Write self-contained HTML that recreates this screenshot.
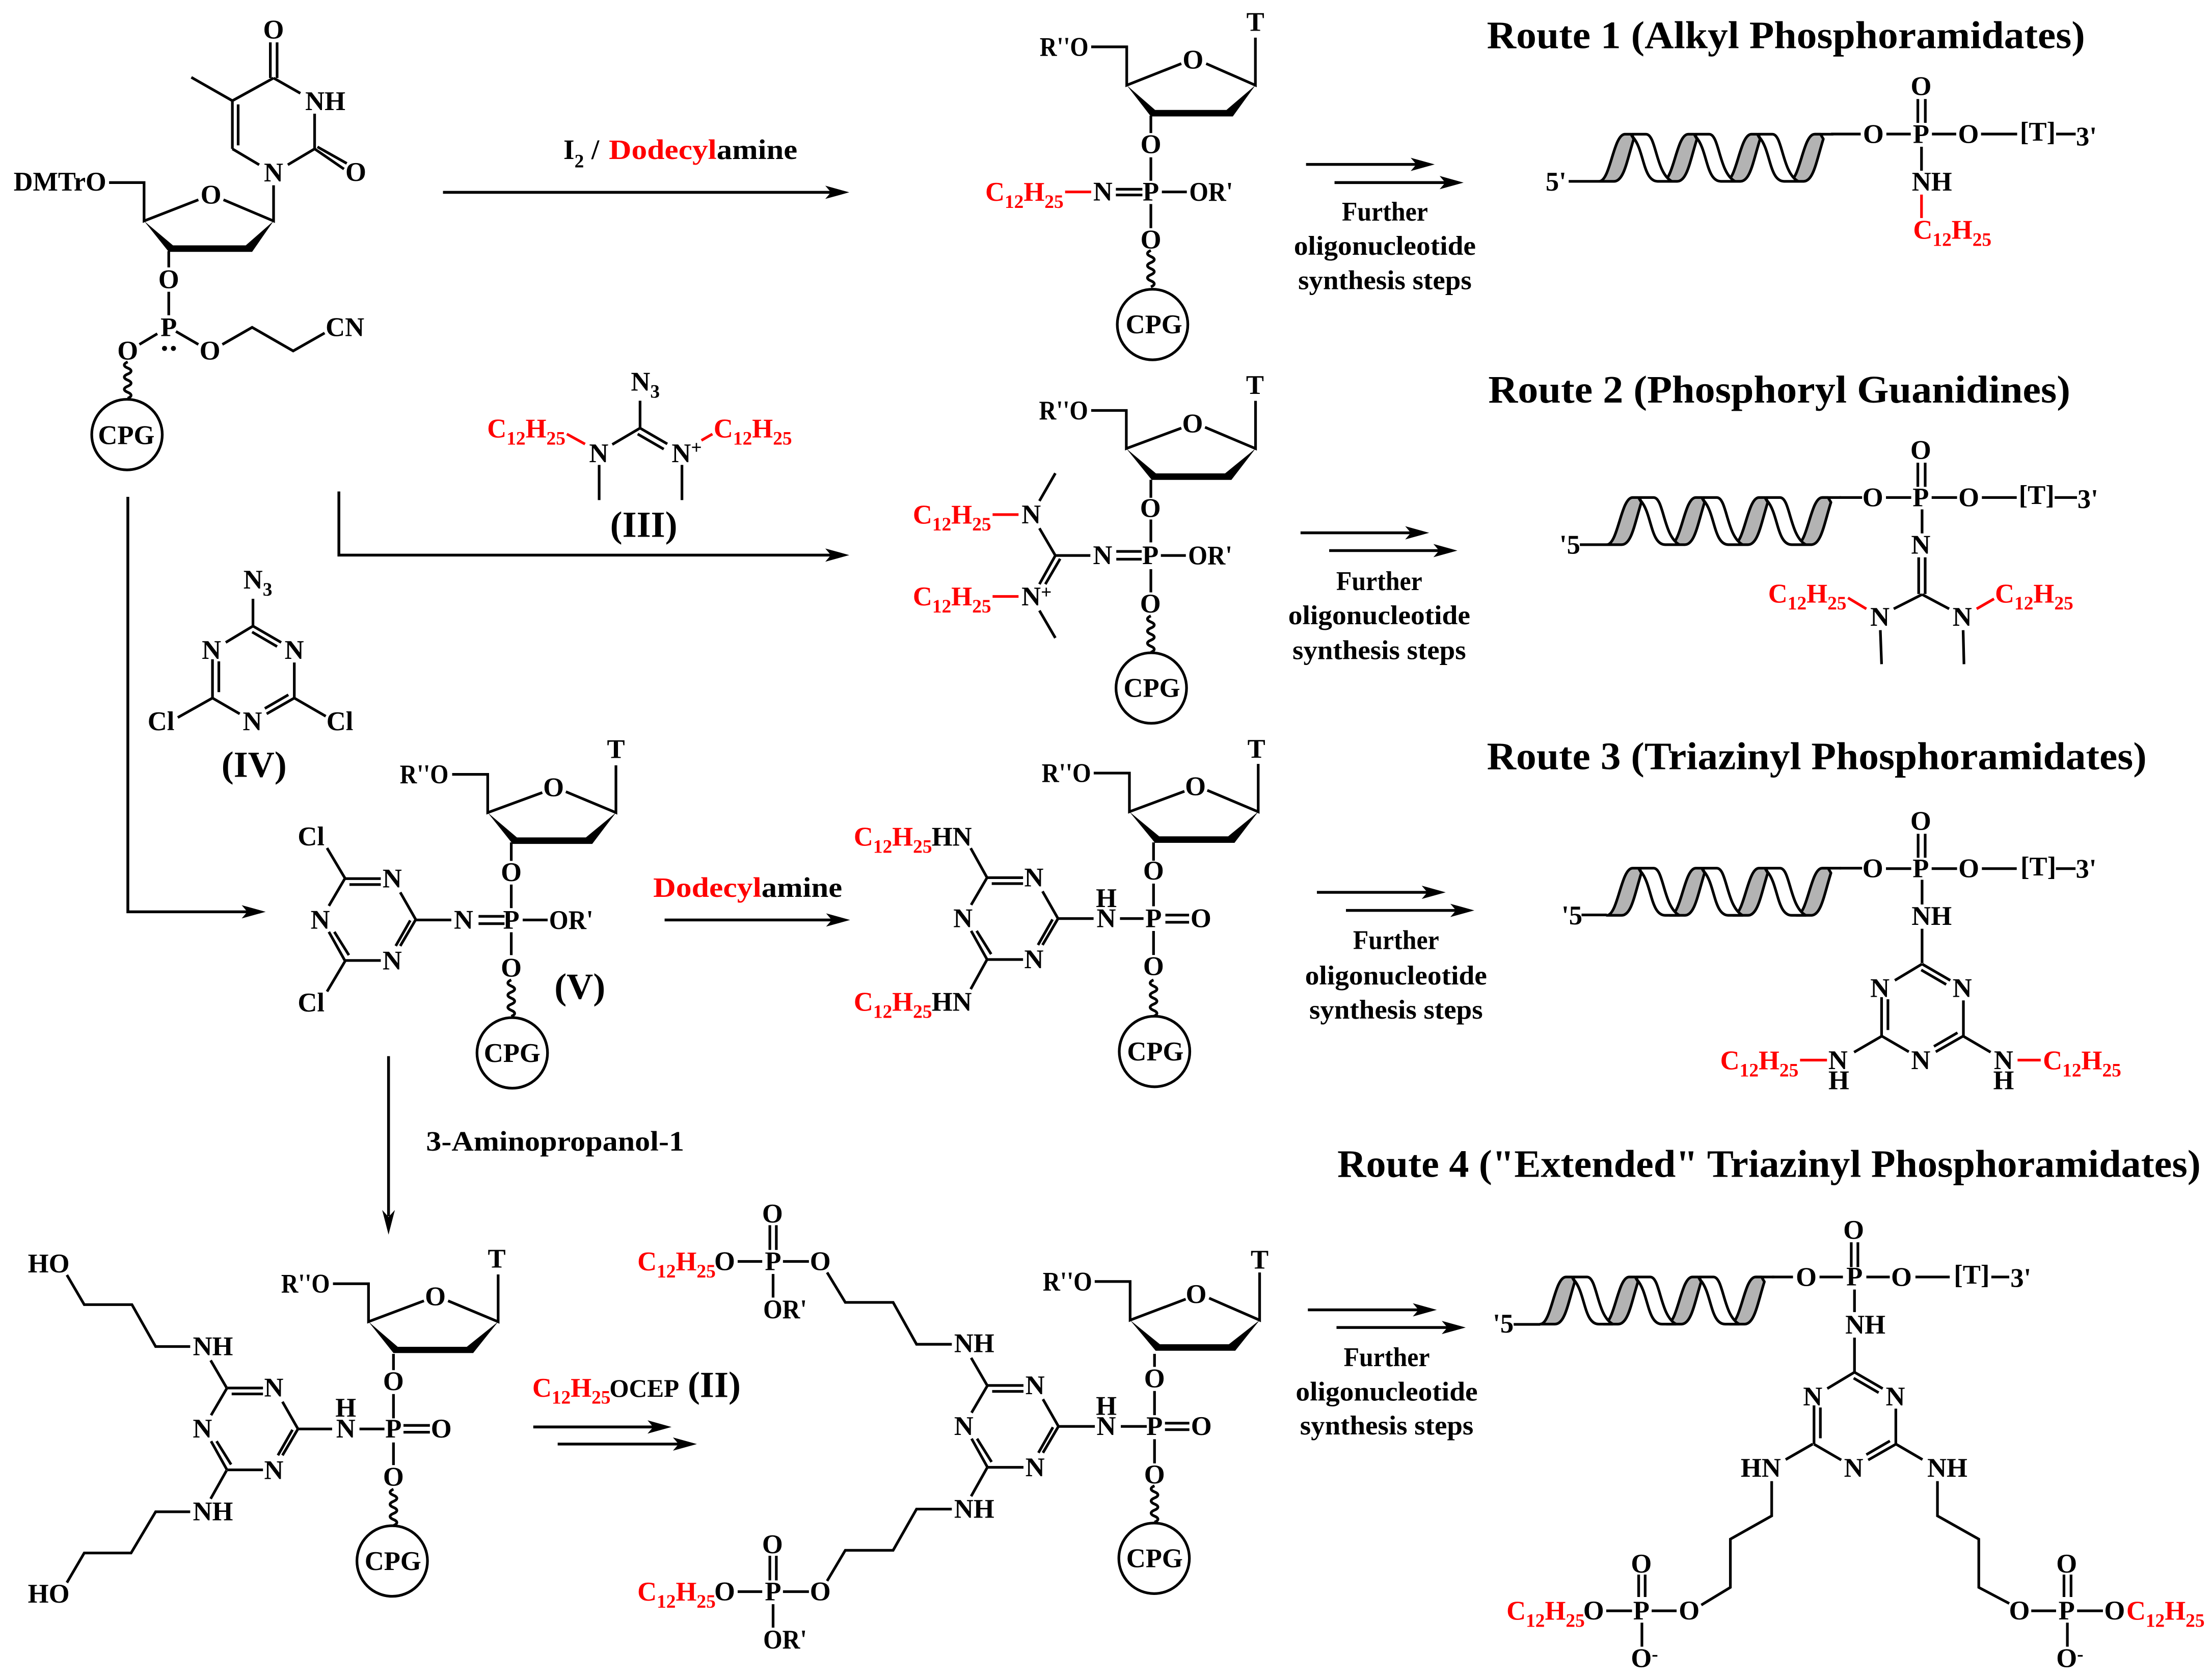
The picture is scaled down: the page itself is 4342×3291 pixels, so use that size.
<!DOCTYPE html>
<html><head><meta charset="utf-8"><title>Routes</title>
<style>
html,body{margin:0;padding:0;background:#fff}
svg{display:block}
text{font:bold 19px "Liberation Serif",serif;fill:#000}
.r,.r tspan{fill:#f00}
.s{font-size:13.5px}
.a text{text-anchor:middle;dominant-baseline:central}
.b{fill:none;stroke:#000;stroke-width:1.9}
.rb{fill:none;stroke:#f00;stroke-width:1.9}
.ar{fill:none;stroke:#000;stroke-width:2}
.big{font-size:26px}
.t{font-size:27.5px}
.m{font-size:20px}
</style></head><body>
<svg xmlns="http://www.w3.org/2000/svg" width="4342" height="3291" viewBox="0 0 1568 1188.5">
<defs>
<path id="w" class="b" d="M0 0c-3.2 1.4-3.2 3 0 4.3s3.2 3 0 4.3-3.2 3 0 4.3 3.2 3 0 4.3-3.2 3 0 4.3 3.2 3 0 4.3"/>
<polygon id="ah" points="0,0 -17,-4.7 -13,0 -17,4.7"/>
<path id="tz" class="b" d="M-50.3,-29H-24.8M-47,-24.8H-24.8M-11,-19.3L0,0M-50.3,-29L-61.6,-9.7M-61.6,8.7L-50.3,29M-57.7,8.7L-47.4,25.2M-50.3,29H-24.8M0,0L-11,18.7M-3.9,.6L-14.2,18.7"/>
<path id="tv" class="b" d="M0,0L-19.3,11.6M0,0L20,11.6M-.6,4.2L17.1,14.5M-28.7,23.5V51M-24.2,25V46.8M-28.7,51L-9.4,62.2M29.3,51L9.7,62.2M25.1,48.7L8.4,58.4M29.3,25.8V51"/>
<path id="hg" fill="#b3b3b3" stroke="#000" stroke-width="1.9" stroke-linejoin="round" d="M0,0C8,0 10,-33.4 18.3,-33.4L22.5,-33.4L24.5,-30C19.5,-14 17.5,0 10.5,0Z"/>
<path id="hw" fill="#fff" stroke="#000" stroke-width="1.9" stroke-linejoin="round" d="M23,-33.4L33.2,-33.4C40.5,-33.4 40,-6 51.5,0L41.5,0C31,0 32,-22 24.2,-31Z"/>
<g id="h">
<use href="#hg"/><use href="#hg" x="44.8"/><use href="#hg" x="89.6"/><use href="#hg" x="134.4"/>
<use href="#hw"/><use href="#hw" x="44.8"/><use href="#hw" x="89.6"/>
<path class="b" d="M152.7,-33.4H166"/>
</g>
</defs>
<rect width="1568" height="1188.5" fill="#fff"/>

<!-- Thymidine start -->
<polygon points="102.1,156.6 122.6,173.9 174.2,173.9 193.9,156.6 178.7,178.5 119.6,178.5"/>
<path class="b" d="M77.3,129.4H102.1V156.6L140.6,141.6M158.4,141.6L193.9,156.6V131.3M119.6,178V189.5M119.6,206.8V223.4M111.5,236.5L98.8,244.1M124.7,234.9L140.6,244.1M157.6,244.1L178.7,232L207.8,248.7L230.1,236M191.6,30V55.3M196.4,30V55.3M193.9,55.3L164.7,71.4L135.6,54.8M164.7,71.4V105.5M168.8,74V103M164.7,105.5L183.7,116.8M204,116.8L223,105.5V80.6M193.9,55.3L212.9,66.1M223,105.5L243.8,119.8M225,104.1L245.8,115.8"/>
<circle cx="116.6" cy="246.9" r="1.8"/><circle cx="122.9" cy="246.9" r="1.8"/>
<use href="#w" x="90.5" y="256.5"/>
<circle class="b" cx="90" cy="308" r="25"/>
<g class="a">
<text x="193.9" y="21.2">O</text><text x="230.6" y="71.9">NH</text><text x="252.2" y="122">O</text><text x="193.9" y="122.5">N</text><text x="149.5" y="138.2">O</text>
<text x="42.5" y="129" textLength="65.7" lengthAdjust="spacingAndGlyphs">DMTrO</text>
<text x="119.6" y="198">O</text><text x="119.6" y="232">P</text><text x="90.5" y="248.7">O</text><text x="148.8" y="248.7">O</text><text x="244.5" y="232">CN</text><text x="89.5" y="308.6">CPG</text>
</g>

<!-- Top reaction -->
<text class="m" x="399.4" y="112.6">I<tspan class="s" dy="6">2</tspan></text>
<text class="m" x="419.2" y="112.6">/</text>
<text class="m r" x="431.6" y="112.6" textLength="76.4" lengthAdjust="spacingAndGlyphs">Dodecyl</text>
<text class="m" x="508" y="112.6" textLength="57.2" lengthAdjust="spacingAndGlyphs">amine</text>
<path class="ar" d="M314,136.3H590"/><use href="#ah" x="602" y="136.3"/>

<!-- Route 1 product -->
<polygon points="798.7,60.4 818.8,77.9 869.4,77.9 889.9,60.4 873.9,82.5 815.8,82.5"/>
<path class="b" d="M773.5,33.2H798.7V60.4L837.4,45.1M855,45.1L889.9,60.4V26.7M815.8,82V94.3M815.8,111.5V128.1M815.8,144.6V161.7M791,134.1H809.8M791,138.2H809.8M823.6,136H841.3"/>
<path class="rb" d="M755,136H773.5"/>
<use href="#w" x="815.8" y="177.5"/>
<circle class="b" cx="817" cy="230" r="25"/>
<text x="737" y="39.5" textLength="34.6" lengthAdjust="spacingAndGlyphs">R''O</text>
<g class="a"><text x="889.9" y="15.7">T</text><text x="845.7" y="42.4">O</text><text x="815.8" y="102.3">O</text><text x="781.8" y="136">N</text><text x="815.8" y="136">P</text><text x="815.8" y="170">O</text><text x="818" y="230">CPG</text></g>
<text x="843" y="142.3" textLength="31" lengthAdjust="spacingAndGlyphs">OR'</text>
<text class="r" x="698.4" y="142.3">C<tspan class="s" dy="5">12</tspan><tspan dy="-5">H</tspan><tspan class="s" dy="5">25</tspan></text>
<path class="ar" d="M925.8,116.5H1005M946,129.4H1025"/><use href="#ah" x="1017" y="116.5"/><use href="#ah" x="1037.5" y="129.4"/>
<text x="951.2" y="156.3" textLength="61" lengthAdjust="spacingAndGlyphs">Further</text>
<text x="917.2" y="180.6" textLength="129" lengthAdjust="spacingAndGlyphs">oligonucleotide</text>
<text x="920.2" y="204.9" textLength="123" lengthAdjust="spacingAndGlyphs">synthesis steps</text>

<!-- Route 1 right -->
<text class="t" x="1054" y="34.2" textLength="424" lengthAdjust="spacingAndGlyphs">Route 1 (Alkyl Phosphoramidates)</text>
<use href="#h" x="1133.6" y="128.5"/>
<path class="b" d="M1112,128.5H1133.6M1298,95H1319M1337.2,95H1354.5M1369.5,95H1386.7M1404.3,95H1429.9M1457.5,95H1471.4M1359.5,70.2V87.1M1364.8,70.2V87.1M1362.1,104V121"/>
<path class="rb" d="M1362.1,137.9V154.5"/>
<g class="a"><text x="1103" y="129">5'</text><text x="1328" y="95.2">O</text><text x="1361.8" y="95.2">P</text><text x="1361.8" y="61.3">O</text><text x="1395.4" y="95.2">O</text><text x="1369.5" y="129">NH</text><text x="1444.5" y="93.5">[T]</text><text x="1479" y="97">3'</text></g>
<text class="r" x="1356.2" y="169.2">C<tspan class="s" dy="5">12</tspan><tspan dy="-5">H</tspan><tspan class="s" dy="5">25</tspan></text>

<!-- Guanidine III -->
<path class="b" d="M453.7,284V303.4L434,315M453.7,303.4L473,314.6M452,307.6L470.5,318.3M424.7,329.5V354.4M483.4,329.5V354.4"/>
<path class="rb" d="M401.8,307.6L414.7,314.7M497.2,312.1L505,307.6"/>
<text x="447.2" y="276.8">N<tspan class="s" dy="5">3</tspan></text>
<text x="417.6" y="327.5">N</text>
<text x="476.1" y="327.5">N<tspan class="s" dy="-6">+</tspan></text>
<text class="r" x="345.3" y="310.1">C<tspan class="s" dy="5">12</tspan><tspan dy="-5">H</tspan><tspan class="s" dy="5">25</tspan></text>
<text class="r" x="505.9" y="310.1">C<tspan class="s" dy="5">12</tspan><tspan dy="-5">H</tspan><tspan class="s" dy="5">25</tspan></text>
<text class="big" x="432.5" y="380.5">(III)</text>
<path class="ar" d="M240.2,348.3V393.4H590"/><use href="#ah" x="602" y="393.4"/>
<path class="ar" d="M90.6,352.1V646.2H176"/><use href="#ah" x="188.3" y="646.2"/>

<!-- Triazine IV -->
<use href="#tv" x="179.3" y="443.7"/>
<path class="b" d="M179.3,424.4V443.7M150.6,494.7L126,508.5M208.6,494.7L230.9,507.6"/>
<text x="172.5" y="417.1">N<tspan class="s" dy="5">3</tspan></text>
<g class="a"><text x="149.9" y="460.8">N</text><text x="208.6" y="460.8">N</text><text x="178.9" y="511.4">N</text><text x="114.1" y="511.4">Cl</text><text x="240.9" y="511.4">Cl</text></g>
<text class="big" x="157" y="550.5">(IV)</text>

<!-- Route 2 product -->
<polygon points="798.4,317.9 819.4,335.5 868.4,335.5 890,317.9 872.9,340.1 816.4,340.1"/>
<path class="b" d="M773.5,290.9H798.4V317.9L837.4,303.4M854.2,302.8L890,317.9V284.1M815.8,340V352.8M815.8,368.2V384.4M815.8,403.4V419.8M791.3,390.8H809.3M791.3,396.3H809.3M822.9,393.7H840.6M748.1,393.7H772.9M748.1,393.7L736.8,374.4M736.8,355L748.1,335.4M748.1,393.7L736.8,414M751.5,396L741,414M736.8,432.7L748.1,452.1"/>
<path class="rb" d="M703.6,364.7H722M703.6,422.7H722"/>
<use href="#w" x="815.8" y="436.5"/>
<circle class="b" cx="816.1" cy="487.6" r="25"/>
<text x="736.5" y="297.2" textLength="34.8" lengthAdjust="spacingAndGlyphs">R''O</text>
<g class="a"><text x="889.6" y="273.1">T</text><text x="845.4" y="300.2">O</text><text x="815.5" y="360.2">O</text><text x="815.5" y="393.7">P</text><text x="781.6" y="393.7">N</text><text x="815.5" y="427.9">O</text><text x="731" y="364.7">N</text><text x="816.5" y="487.8">CPG</text></g>
<text x="842.2" y="400" textLength="31.3" lengthAdjust="spacingAndGlyphs">OR'</text>
<text x="724.1" y="429">N<tspan class="s" dy="-5">+</tspan></text>
<text class="r" x="647.1" y="371">C<tspan class="s" dy="5">12</tspan><tspan dy="-5">H</tspan><tspan class="s" dy="5">25</tspan></text>
<text class="r" x="647.1" y="429">C<tspan class="s" dy="5">12</tspan><tspan dy="-5">H</tspan><tspan class="s" dy="5">25</tspan></text>
<path class="ar" d="M921.9,377.6H1001M942.2,390.2H1021"/><use href="#ah" x="1013.1" y="377.6"/><use href="#ah" x="1033.1" y="390.2"/>
<text x="947.2" y="418.2" textLength="61" lengthAdjust="spacingAndGlyphs">Further</text>
<text x="913.2" y="442.4" textLength="129" lengthAdjust="spacingAndGlyphs">oligonucleotide</text>
<text x="916.2" y="467.2" textLength="123" lengthAdjust="spacingAndGlyphs">synthesis steps</text>

<!-- Route 2 right -->
<text class="t" x="1055" y="285.3" textLength="412.6" lengthAdjust="spacingAndGlyphs">Route 2 (Phosphoryl Guanidines)</text>
<use href="#h" x="1139" y="386"/>
<path class="b" d="M1119.9,386H1139M1304,352.6H1320M1336.9,352.6H1354.8M1369.3,352.6H1387.3M1404.9,352.6H1429.6M1456.5,352.6H1472.3M1359.5,327.9V345M1364.7,327.9V345M1362.5,361V378M1360.1,395V421M1364.7,395V421M1362.5,421.3L1342.4,431.5M1362.5,421.3L1381.7,431.5M1332.9,446.6L1333.8,470.7M1391.6,446.6L1392.2,470.7"/>
<path class="rb" d="M1310,423.7L1323,431.5M1401.2,431.5L1413.5,424.4"/>
<g class="a"><text x="1112.8" y="386.3">'5</text><text x="1327.6" y="352.6">O</text><text x="1361.6" y="352.6">P</text><text x="1361.6" y="319">O</text><text x="1395.6" y="352.6">O</text><text x="1443.7" y="351">[T]</text><text x="1480" y="354">3'</text><text x="1361.6" y="386.3">N</text><text x="1332.6" y="437.3">N</text><text x="1391" y="437.3">N</text></g>
<text class="r" x="1253.4" y="427">C<tspan class="s" dy="5">12</tspan><tspan dy="-5">H</tspan><tspan class="s" dy="5">25</tspan></text>
<text class="r" x="1414.2" y="427">C<tspan class="s" dy="5">12</tspan><tspan dy="-5">H</tspan><tspan class="s" dy="5">25</tspan></text>

<!-- Structure V -->
<polygon points="345.7,575.9 366.4,593.5 415.3,593.5 436.6,575.9 419.8,598.1 363.4,598.1"/>
<path class="b" d="M320.5,548.8H345.7V575.9L384.4,561.7M401.1,561.1L436.6,575.9V542.4M362.4,597V610.1M362.4,626.9V643.6M362.4,660.7V676.9M339.2,649.4H357.6M339.2,654.6H357.6M370.5,652H388.2M294.7,652H319.9M231.8,601L244.7,622.7M231.8,702.7L244.7,681"/>
<use href="#tz" x="294.7" y="651.7"/>
<use href="#w" x="362.4" y="694.5"/>
<circle class="b" cx="363.1" cy="746.2" r="25"/>
<text x="283.4" y="555.1" textLength="34.5" lengthAdjust="spacingAndGlyphs">R''O</text>
<g class="a"><text x="436.6" y="531.1">T</text><text x="392.4" y="558.2">O</text><text x="362.4" y="618.2">O</text><text x="362.4" y="652">P</text><text x="328.6" y="652">N</text><text x="362.4" y="685.9">O</text><text x="278" y="622.7">N</text><text x="227" y="652">N</text><text x="278" y="681">N</text><text x="220.5" y="593">Cl</text><text x="220.5" y="710.7">Cl</text><text x="363" y="746.4">CPG</text></g>
<text x="389.2" y="658.3" textLength="31.3" lengthAdjust="spacingAndGlyphs">OR'</text>
<text class="big" x="393" y="707.8">(V)</text>
<text class="m r" x="463" y="635.6" textLength="76.8" lengthAdjust="spacingAndGlyphs">Dodecyl</text>
<text class="m" x="539.8" y="635.6" textLength="57.2" lengthAdjust="spacingAndGlyphs">amine</text>
<path class="ar" d="M471.1,652H590"/><use href="#ah" x="602.6" y="652"/>

<!-- Route 3 product -->
<polygon points="800.6,575.3 821.7,592.7 870.6,592.7 891.9,575.3 875.1,597.3 818.7,597.3"/>
<path class="b" d="M775.3,547.9H800.6V575.3L839.6,560.8M855.8,560.1L891.9,575.3V541.4M817.7,597V610M817.7,626.2V642.3M817.7,659.8V676.8M793.9,651H810.6M826.1,648.5H842.9M826.1,653.6H842.9M750,651H775.2M688.1,601.1L699.7,622M688.1,701L699.7,680"/>
<use href="#tz" x="750" y="651"/>
<use href="#w" x="817.7" y="694.5"/>
<circle class="b" cx="818.4" cy="745.2" r="25"/>
<text x="738.4" y="554.2" textLength="35" lengthAdjust="spacingAndGlyphs">R''O</text>
<g class="a"><text x="890.6" y="530.8">T</text><text x="847.4" y="557.5">O</text><text x="817.7" y="617.2">O</text><text x="817.7" y="651">P</text><text x="851.3" y="651">O</text><text x="784.2" y="651">N</text><text x="784.2" y="636.6">H</text><text x="817.7" y="684.9">O</text><text x="732.9" y="622">N</text><text x="682.6" y="651">N</text><text x="732.9" y="680">N</text><text x="819" y="745.4">CPG</text></g>
<text class="r" x="605.2" y="599.3">C<tspan class="s" dy="5">12</tspan><tspan dy="-5">H</tspan><tspan class="s" dy="5">25</tspan></text><text x="660.4" y="599.3">HN</text>
<text class="r" x="605.2" y="716.4">C<tspan class="s" dy="5">12</tspan><tspan dy="-5">H</tspan><tspan class="s" dy="5">25</tspan></text><text x="660.4" y="716.4">HN</text>
<path class="ar" d="M933.5,632.4H1012M954.1,645.2H1033"/><use href="#ah" x="1024.8" y="632.4"/><use href="#ah" x="1045.1" y="645.2"/>
<text x="959.1" y="672.7" textLength="61" lengthAdjust="spacingAndGlyphs">Further</text>
<text x="925.1" y="697.8" textLength="129" lengthAdjust="spacingAndGlyphs">oligonucleotide</text>
<text x="928.1" y="722" textLength="123" lengthAdjust="spacingAndGlyphs">synthesis steps</text>

<!-- Route 3 right -->
<text class="t" x="1054" y="545.2" textLength="467.7" lengthAdjust="spacingAndGlyphs">Route 3 (Triazinyl Phosphoramidates)</text>
<use href="#h" x="1139" y="648.7"/>
<path class="b" d="M1121.1,648.4H1139M1304,615.3H1320M1336.9,615.6H1354.8M1369.3,615.6H1387.3M1404.9,615.6H1429.6M1457.4,615.6H1471.3M1359.7,590.9V607.9M1364.7,590.9V607.9M1362.5,623.5V641M1362.5,658.2V682.5M1333.8,734.4L1314.3,745.7M1391.8,734.4L1411.1,745.7"/>
<use href="#tv" x="1362.5" y="683.2"/>
<path class="rb" d="M1276,751.3H1295.1M1430.2,751.3H1446.6"/>
<g class="a"><text x="1114.3" y="649">'5</text><text x="1327.6" y="615.6">O</text><text x="1361.6" y="615.6">P</text><text x="1361.6" y="582">O</text><text x="1395.6" y="615.6">O</text><text x="1444.9" y="614.3">[T]</text><text x="1478.8" y="616">3'</text><text x="1369.3" y="649.3">NH</text><text x="1332.6" y="700.4">N</text><text x="1391" y="700.4">N</text><text x="1361.6" y="751.6">N</text><text x="1302.9" y="751.6">N</text><text x="1303.5" y="765.8">H</text><text x="1420.3" y="751.6">N</text><text x="1420.3" y="765.8">H</text></g>
<text class="r" x="1219.4" y="757.9">C<tspan class="s" dy="5">12</tspan><tspan dy="-5">H</tspan><tspan class="s" dy="5">25</tspan></text>
<text class="r" x="1448.2" y="757.9">C<tspan class="s" dy="5">12</tspan><tspan dy="-5">H</tspan><tspan class="s" dy="5">25</tspan></text>

<!-- Down arrow -->
<path class="ar" d="M275.4,748.5V862"/><polygon points="275.4,875 270.9,857.5 275.4,862.5 279.9,857.5"/>
<text class="m" x="302" y="815.5" textLength="183" lengthAdjust="spacingAndGlyphs">3-Aminopropanol-1</text>

<!-- Bottom-left structure -->
<polygon points="261.2,936.7 281.9,954.5 330.9,954.5 353.1,936.7 335.4,958.9 278.9,958.9"/>
<path class="b" d="M236,909.8H261.2V936.7L300.5,921.9M317.6,921.9L353.1,936.7V903.2M278.9,959.5V971M278.9,988V1005.2M278.9,1022.3V1038.3M254.8,1012.7H272.5M286,1010.2H304.7M286,1015H304.7M211.2,1012.7H235.4M47.4,903.6L59.7,924.6H93.5L110.3,954.3H134.8M149.3,964.1L160.6,983.5M160.6,1042.1L149.3,1062.2M134.8,1071.4H110.3L92.9,1100.6H59.7L47.4,1121.6"/>
<use href="#tz" x="211.2" y="1012.7"/>
<use href="#w" x="278.9" y="1055.4"/>
<circle class="b" cx="278" cy="1106.3" r="25"/>
<text x="199.3" y="916.1" textLength="34.5" lengthAdjust="spacingAndGlyphs">R''O</text>
<g class="a"><text x="352.1" y="892.2">T</text><text x="308.6" y="918.9">O</text><text x="34.5" y="895.6">HO</text><text x="150.9" y="954.3">NH</text><text x="194.1" y="983.5">N</text><text x="143.5" y="1012.7">N</text><text x="194.1" y="1042.1">N</text><text x="245.1" y="1012.7">N</text><text x="245.1" y="997.9">H</text><text x="278.9" y="1012.7">P</text><text x="312.8" y="1012.7">O</text><text x="278.9" y="979">O</text><text x="278.9" y="1046.7">O</text><text x="150.9" y="1071.4">NH</text><text x="34.5" y="1129.6">HO</text><text x="278.5" y="1106.5">CPG</text></g>

<!-- OCEP label -->
<text class="r" x="377.3" y="989.8">C<tspan class="s" dy="5">12</tspan><tspan dy="-5">H</tspan><tspan class="s" dy="5">25</tspan></text>
<text x="432" y="989.8" style="font-size:17.8px">OCEP</text>
<text class="big" x="487.5" y="990">(II)</text>
<path class="ar" d="M378,1011.3H464M395.3,1023.4H482"/><use href="#ah" x="476" y="1011.3"/><use href="#ah" x="494" y="1023.4"/>

<!-- Route 4 product -->
<polygon points="801.1,935.6 822.2,952.7 871.1,952.7 892.9,935.6 875.6,957.3 819.2,957.3"/>
<path class="b" d="M776,908.2H801.1V935.6L840.5,920.7M857.1,920L892.9,935.6V901.8M818.4,959.5V968.7M818.4,985.8V1002.9M818.4,1020V1037.1M794.5,1010.9H812.9M825.8,1008.6H843.1M825.8,1013.2H843.1M750.3,1010.9H776.1M586.3,901.8L599.2,923H633.1L649.7,952.7H674.7M688.4,962.3L699.8,981.9M699.8,1040.1L688.4,1060.4M674.7,1069.5H649.7L633.1,1098.7H599.2L586.3,1120.4M545.7,868.3V885.8M550.3,868.3V885.8M522.9,894H540.3M555,894H573.4M548,902.9V919.6M545.7,1102.6V1120M550.3,1102.6V1120M522.9,1128H540.3M555,1128H573.4M548,1136.9V1153.5"/>
<use href="#tz" x="750.3" y="1010.9"/>
<use href="#w" x="818.4" y="1053"/>
<circle class="b" cx="818.1" cy="1104.4" r="25"/>
<text x="739.2" y="914.5" textLength="35" lengthAdjust="spacingAndGlyphs">R''O</text>
<g class="a"><text x="892.9" y="892.9">T</text><text x="847.9" y="917.3">O</text><text x="547.6" y="860.3">O</text><text x="548" y="894">P</text><text x="513.7" y="894">O</text><text x="581.5" y="894">O</text><text x="690.6" y="952.2">NH</text><text x="733.7" y="981.9">N</text><text x="683.2" y="1010.9">N</text><text x="733.7" y="1040.1">N</text><text x="784.2" y="1010.9">N</text><text x="784.2" y="996.5">H</text><text x="818.4" y="1010.9">P</text><text x="851.6" y="1010.9">O</text><text x="818.4" y="977.1">O</text><text x="818.4" y="1045.1">O</text><text x="690.6" y="1069.5">NH</text><text x="581.5" y="1128">O</text><text x="548" y="1128">P</text><text x="547.6" y="1094.6">O</text><text x="513.7" y="1128">O</text><text x="818.4" y="1104.6">CPG</text></g>
<text x="541" y="934.3" textLength="31" lengthAdjust="spacingAndGlyphs">OR'</text>
<text x="541" y="1168.3" textLength="31" lengthAdjust="spacingAndGlyphs">OR'</text>
<text class="r" x="451.8" y="900.3">C<tspan class="s" dy="5">12</tspan><tspan dy="-5">H</tspan><tspan class="s" dy="5">25</tspan></text>
<text class="r" x="451.8" y="1134.3">C<tspan class="s" dy="5">12</tspan><tspan dy="-5">H</tspan><tspan class="s" dy="5">25</tspan></text>
<path class="ar" d="M927.1,928.3H1006M947.4,940.8H1027"/><use href="#ah" x="1018.5" y="928.3"/><use href="#ah" x="1039" y="940.8"/>
<text x="952.5" y="968.2" textLength="61" lengthAdjust="spacingAndGlyphs">Further</text>
<text x="918.5" y="992.6" textLength="129" lengthAdjust="spacingAndGlyphs">oligonucleotide</text>
<text x="921.5" y="1016.6" textLength="123" lengthAdjust="spacingAndGlyphs">synthesis steps</text>

<!-- Route 4 right -->
<text class="t" x="948" y="834" textLength="612" lengthAdjust="spacingAndGlyphs">Route 4 ("Extended" Triazinyl Phosphoramidates)</text>
<use href="#h" x="1091.8" y="938.4"/>
<path class="b" d="M1073,938.6H1091.8M1256,905H1271M1289.8,905H1306.4M1323,905H1339.6M1357.8,905H1382.1M1411.6,905H1424.3M1312.3,880.4V898M1317,880.4V898M1314.6,913.9V929.9M1314.6,948V972.5M1285,1023.4L1265.8,1034.4M1343.9,1023.4L1362.8,1034.4M1255.9,1049.7V1074.3L1226.6,1090.8V1125L1206,1137.5M1373.4,1049.7V1074.3L1402.7,1090.8V1125L1424.3,1136.4M1138.6,1141.6H1156.9M1170.8,1141.6H1188.5M1161.6,1115.9V1131.8M1166.2,1115.9V1131.8M1163.9,1150V1167M1439.9,1141.6H1457.5M1472.4,1141.6H1490.7M1463.1,1115.9V1131.8M1468.1,1115.9V1131.8M1465.5,1150V1167"/>
<use href="#tv" x="1314.6" y="972.5"/>
<g class="a"><text x="1065.6" y="938.3">'5</text><text x="1280.4" y="905.2">O</text><text x="1314.6" y="904.8">P</text><text x="1314" y="871.7">O</text><text x="1347.9" y="905.2">O</text><text x="1397.7" y="903.5">[T]</text><text x="1432.5" y="906">3'</text><text x="1322.3" y="939">NH</text><text x="1285" y="989.9">N</text><text x="1343.6" y="989.9">N</text><text x="1314" y="1040.5">N</text><text x="1248.2" y="1040.5">HN</text><text x="1380.4" y="1040.5">NH</text><text x="1197.4" y="1141.6">O</text><text x="1163.5" y="1141.6">P</text><text x="1163.5" y="1108.3">O</text><text x="1129.7" y="1141.6">O</text><text x="1431.5" y="1141.6">O</text><text x="1465" y="1141.6">P</text><text x="1465" y="1108.3">O</text><text x="1499" y="1141.6">O</text></g>
<text x="1156.1" y="1181.5">O<tspan class="s" dy="-5">-</tspan></text>
<text x="1457.6" y="1181.5">O<tspan class="s" dy="-5">-</tspan></text>
<text class="r" x="1067.9" y="1147.9">C<tspan class="s" dy="5">12</tspan><tspan dy="-5">H</tspan><tspan class="s" dy="5">25</tspan></text>
<text class="r" x="1507.3" y="1147.9">C<tspan class="s" dy="5">12</tspan><tspan dy="-5">H</tspan><tspan class="s" dy="5">25</tspan></text>
</svg>
</body></html>
